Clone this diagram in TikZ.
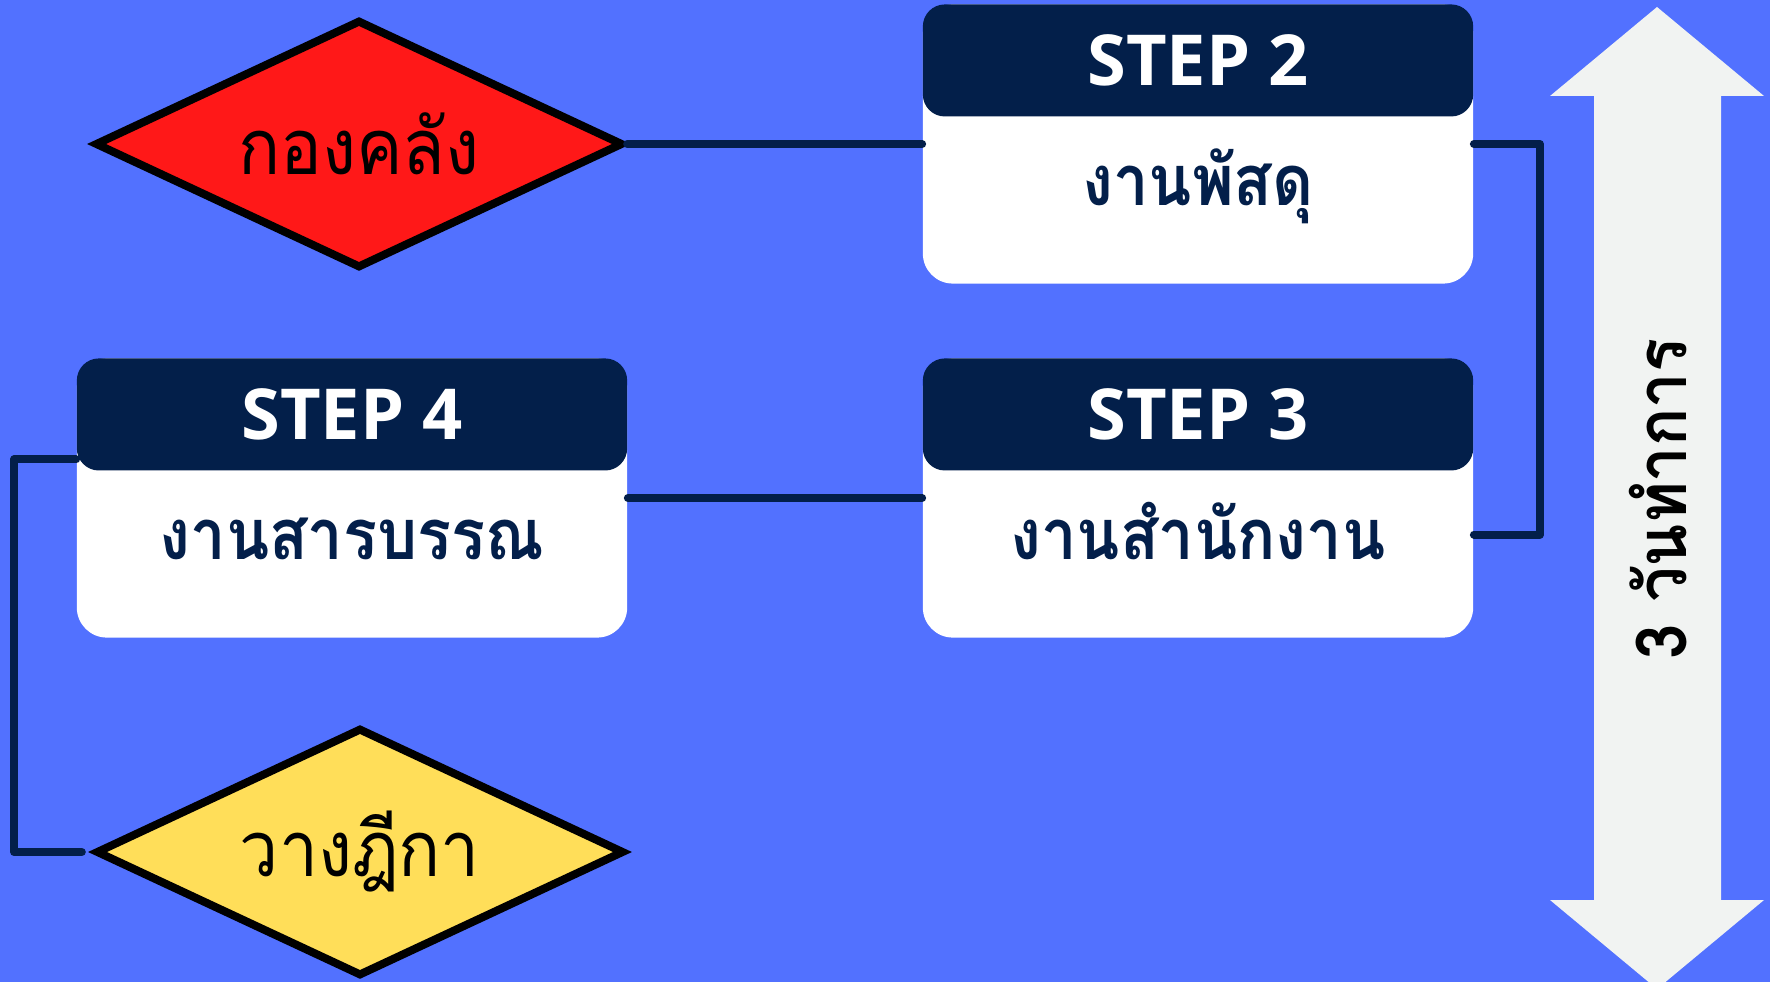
\documentclass[tikz,border=0pt]{standalone}
\usepackage{fontspec}
\setmainfont{Open Sans}
\newfontfamily\thaifont[Script=Thai,FakeStretch=0.9]{Loma}
\usetikzlibrary{shapes.geometric,positioning}

\definecolor{bgblue}{HTML}{5271FF}
\definecolor{navy}{HTML}{031F4A}
\definecolor{kongred}{HTML}{FF1818}
\definecolor{vangyellow}{HTML}{FFDE59}
\definecolor{arrowgrey}{HTML}{F1F3F2}

\tikzset{link/.style={draw=navy,line width=0.08cm,line cap=round,line join=round}}

\begin{document}
\begin{tikzpicture}[x=0.01cm,y=-0.01cm]
    \fill[bgblue] (0,0) rectangle (1770,982);
    \useasboundingbox (0,0) rectangle (1770,982);

    % time arrow
    \fill[arrowgrey] (1657,7) -- (1764,96) -- (1721,96) -- (1721,900) -- (1764,900)
        -- (1657,989) -- (1550,900) -- (1594,900) -- (1594,96) -- (1550,96) -- cycle;
    \node[rotate=90,font=\thaifont\bfseries\fontsize{20}{24}\selectfont] (days) at (1658,499) {3 วันทำการ};

    \begin{scope}[every node/.style={diamond,draw=black,line width=0.08cm,aspect=2.12,
                  minimum width=5.28cm,minimum height=2.48cm,inner sep=0pt,
                  font=\thaifont\fontsize{22}{26}\selectfont}]
    \node[fill=kongred] (kong) at (359,144) {กองคลัง};
    \node[fill=vangyellow] (vang) at (360,852) {วางฎีกา};
    \end{scope}

    \begin{scope}[every node/.style={rectangle,fill=white,rounded corners=0.3cm,
                  minimum width=5.5cm,minimum height=2.79cm,inner sep=0pt}]
    \node (s2) at (1198,144) {};
    \node (s3) at (1198,498) {};
    \node (s4) at (352,498) {};
    \end{scope}

    \begin{scope}[every node/.style={rectangle,fill=navy,text=white,rounded corners=0.22cm,
                  minimum width=5.5cm,minimum height=1.12cm,inner sep=0pt,
                  font=\bfseries\fontsize{20}{24}\selectfont}]
    \node[below=0pt of s2.north] (h2) {STEP 2};
    \node[below=0pt of s3.north] (h3) {STEP 3};
    \node[below=0pt of s4.north] (h4) {STEP 4};
    \end{scope}

    \begin{scope}[every node/.style={text=navy,inner sep=0pt,
                  font=\thaifont\bfseries\fontsize{20}{24}\selectfont}]
    \node[below=0.88cm of h2.south,anchor=base] (t2) {งานพัสดุ};
    \node[below=0.88cm of h3.south,anchor=base] (t3) {งานสำนักงาน};
    \node[below=0.88cm of h4.south,anchor=base] (t4) {งานสารบรรณ};
    \end{scope}

    \path[link] (kong.east) -- (s2.west);
    \path[link] (s2.east) -- ++(66,0) |- ([yshift=-0.365cm]s3.east);
    \path[link] (s3.west) -- (s4.east);
    \path[link] ([yshift=0.385cm]s4.west) -- ++(-62,0) |- ([xshift=-0.1cm]vang.west);
\end{tikzpicture}
\end{document}
